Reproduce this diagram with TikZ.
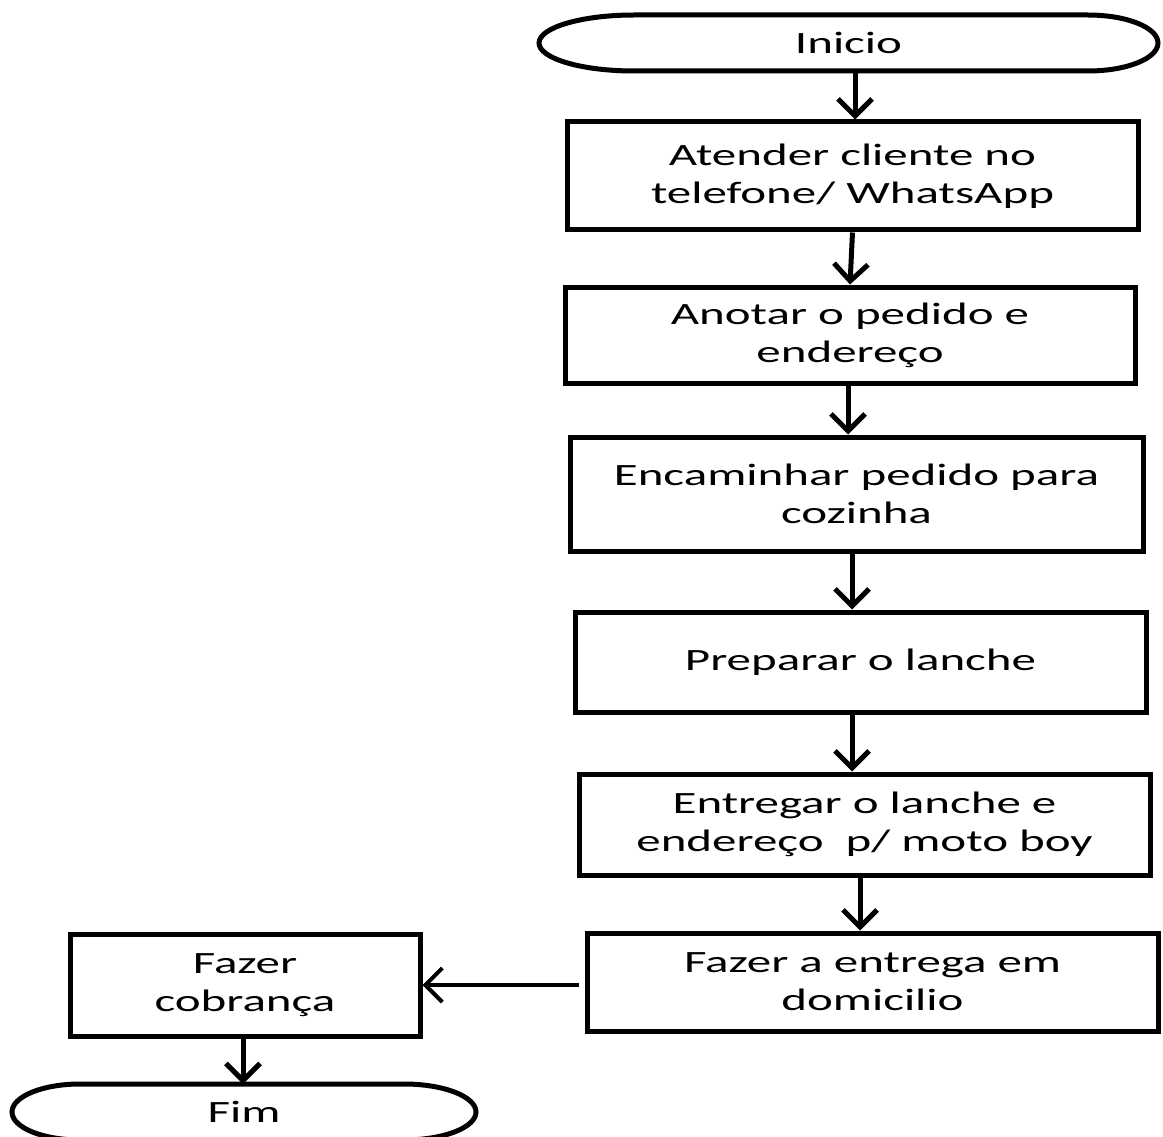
\documentclass[tikz,border=0pt]{standalone}
\usepackage{fontspec}
\setmainfont{Carlito}[FakeStretch=1.58]
\usetikzlibrary{arrows.meta}
\tikzset{
  stepbox/.style={draw, line width=5pt, inner sep=0pt, align=center,
    font=\fontsize{31}{38}\selectfont},
  termnode/.style={inner sep=0pt, outer sep=0pt, align=center,
    font=\fontsize{31}{38}\selectfont},
  flow/.style={line width=5pt, -{Straight Barb[length=17pt,width=34pt]}},
}
\newcommand{\termshape}[3]{%
  \draw[line width=5pt] ([xshift=#2]#1.north west) -- ([xshift=-#3]#1.north east)
    arc[start angle=90,end angle=-90,x radius=#3,y radius=28pt]
    -- ([xshift=#2]#1.south west)
    arc[start angle=270,end angle=90,x radius=#2,y radius=28pt] -- cycle;}
\begin{document}
\begin{tikzpicture}[x=1pt,y=-1pt]
\useasboundingbox (0,0) rectangle (1163,1137);
\clip (0,0) rectangle (1163,1137);
\node[termnode, minimum width=619pt, minimum height=56pt] (inicio) at (848.5,43) {Inicio};
\termshape{inicio}{95pt}{70pt}
\node[stepbox, minimum width=571pt, minimum height=108pt] (b1) at (852.5,176) {Atender cliente no\\telefone/ WhatsApp};
\node[stepbox, minimum width=570pt, minimum height=96pt] (b2) at (850,335) {Anotar o pedido e\\endereço};
\node[stepbox, minimum width=573pt, minimum height=114pt] (b3) at (856.5,494) {Encaminhar pedido para\\cozinha};
\node[stepbox, minimum width=571pt, minimum height=100pt] (b4) at (860.5,662) {Preparar o lanche};
\node[stepbox, minimum width=571pt, minimum height=101pt] (b5) at (864.5,824.5) {Entregar o lanche e\\endereço\ \ p/ moto boy};
\node[stepbox, minimum width=571pt, minimum height=98pt] (b6) at (872.5,982) {Fazer a entrega em\\domicilio};
\node[stepbox, minimum width=350pt, minimum height=102pt] (b7) at (245,985) {Fazer\\cobrança};
\node[termnode, minimum width=464pt, minimum height=56pt] (fim) at (244,1112) {Fim};
\termshape{fim}{68pt}{72pt}
\draw[flow] ([xshift=6.5pt]inicio.south) -- ([xshift=2.5pt]b1.north);
\draw[flow] (b1.south) -- (b2.north);
\draw[flow] ([xshift=-2pt]b2.south) -- ([xshift=-8.5pt]b3.north);
\draw[flow] ([xshift=-4.5pt]b3.south) -- ([xshift=-8.5pt]b4.north);
\draw[flow] ([xshift=-8.5pt]b4.south) -- ([xshift=-12.5pt]b5.north);
\draw[flow] ([xshift=-4.5pt]b5.south) -- ([xshift=-12.5pt]b6.north);
\draw[flow, line width=4pt] ([xshift=-6pt,yshift=-3pt]b6.west) -- (b7.east);
\draw[flow] ([xshift=-2pt]b7.south) -- ([xshift=-1pt]fim.north);
\end{tikzpicture}
\end{document}
